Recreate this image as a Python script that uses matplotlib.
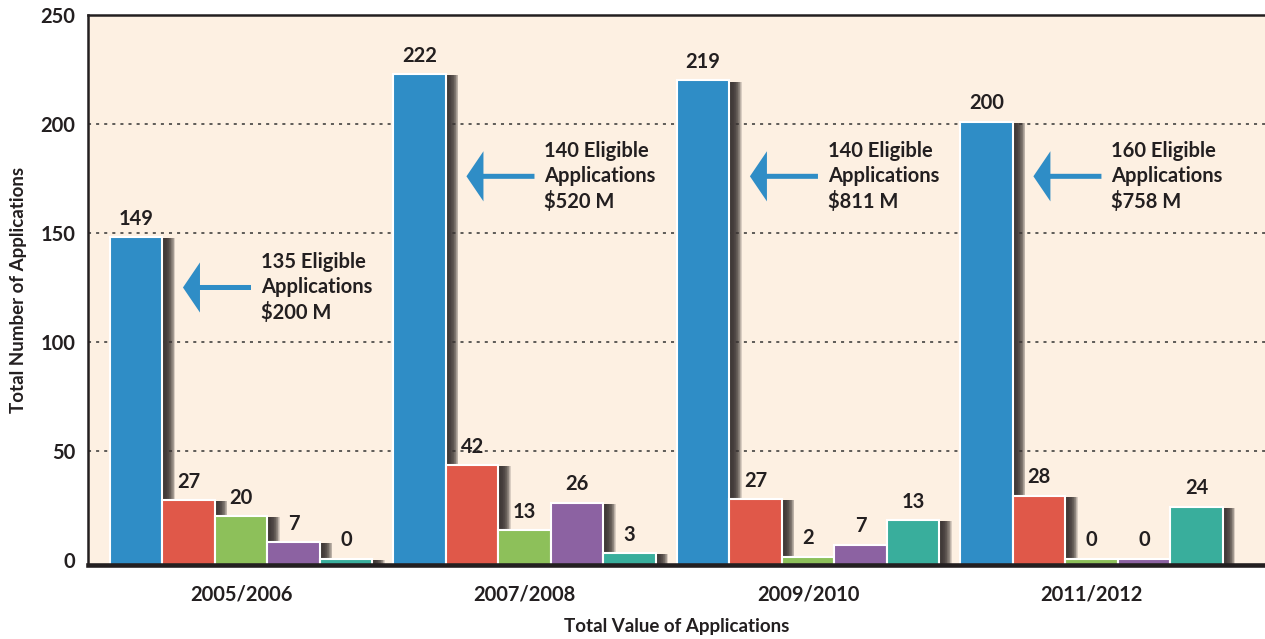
import numpy as np
import matplotlib.pyplot as plt
import matplotlib.patheffects as pe

plt.rcParams['font.family'] = ['Lato', 'DejaVu Sans']
plt.rcParams['font.weight'] = 'bold'
plt.rcParams['axes.labelweight'] = 'bold'

years = ['2005/2006', '2007/2008', '2009/2010', '2011/2012']

# numbers printed above the bars
blue_lbl = [149, 222, 219, 200]
red_lbl = [27, 42, 27, 28]
green_lbl = [20, 13, 2, 0]
purple_lbl = [7, 26, 7, 0]
teal_lbl = [0, 3, 13, 24]

# bar heights as drawn in the original (zeros show a sliver, "13" is drawn taller)
blue_h = [148, 223, 220, 201]
red_h = [27.5, 43.5, 28, 29.5]
green_h = [20.2, 13.8, 1.5, 0.6]
purple_h = [8.3, 26.3, 7, 0.6]
teal_h = [0.6, 3.2, 18.3, 24.4]

eligible = [135, 140, 140, 160]
value_m = [200, 520, 811, 758]
arrow_y = [125, 176, 176, 176]

ink = '#231f20'
bg = '#fdf0e2'
colors = ['#2f8dc6', '#e05849', '#8dc05a', '#8c62a2', '#39ae9c']

fig = plt.figure(figsize=(12.65, 6.39), dpi=100)
ax = fig.add_axes([88 / 1265, 1 - 565 / 639, 1 - 88 / 1265, 550 / 639])
ax.set_facecolor(bg)

base = -2.3
bw = 0.185
x = np.arange(len(years))

# soft drop shadow: many faint copies, further ones fade out
shadow = [pe.SimplePatchShadow(offset=(o, -0.8), shadow_rgbFace='#3a3331', alpha=0.18)
          for o in np.arange(9, 0.5, -0.5)] + [pe.Normal()]

series = [(blue_h, blue_lbl), (red_h, red_lbl), (green_h, green_lbl),
          (purple_h, purple_lbl), (teal_h, teal_lbl)]
for i, (h, lbl) in enumerate(series):
    xs = x + (i - 2) * bw
    bars = ax.bar(xs, np.array(h) - base, bw, bottom=base, color=colors[i],
                  edgecolor='white', linewidth=1.5, zorder=3)
    for b in bars:
        b.set_path_effects(shadow)
    for xx, hh, t in zip(xs, h, lbl):
        ax.annotate(str(t), (xx, hh), xytext=(0, 6), textcoords='offset points',
                    ha='center', va='bottom', fontsize=14.5, color=ink, zorder=5)

for xi, n, v, y in zip(x, eligible, value_m, arrow_y):
    tip = xi - 0.205
    tail = xi + 0.035
    ax.arrow(tail, y, tip - tail, 0, width=2.3, head_width=23, head_length=0.06,
             length_includes_head=True, color=colors[0], lw=0, zorder=4)
    ax.text(xi + 0.07, y, f'{n} Eligible\nApplications\n${v} M', ha='left',
            va='center', fontsize=14.5, color=ink, linespacing=1.3, zorder=5)

ax.set_xlim(-0.54, 3.612)
ax.set_ylim(base, 250)
ax.set_yticks([0, 50, 100, 150, 200, 250])
ax.set_xticks(x)
ax.set_xticklabels(years)
ax.tick_params(length=0, labelsize=14.5, colors=ink)
ax.tick_params(axis='y', pad=9)
ax.tick_params(axis='x', pad=14)

for yy in [50, 100, 150, 200]:
    ax.axhline(yy, color='#333333', lw=1.1, ls=(0, (2, 3.3)), zorder=1)

ax.spines['right'].set_visible(False)
ax.spines['left'].set_linewidth(1.8)
ax.spines['top'].set_linewidth(1.8)
ax.spines['bottom'].set_linewidth(3.3)
for s in ['left', 'top', 'bottom']:
    ax.spines[s].set_color(ink)
ax.spines['bottom'].set_zorder(6)

ax.set_xlabel('Total Value of Applications', fontsize=13.5, color=ink, labelpad=10)
ax.set_ylabel('Total Number of Applications', fontsize=13.5, color=ink, labelpad=10)

fig.savefig('out.png', dpi=100)
